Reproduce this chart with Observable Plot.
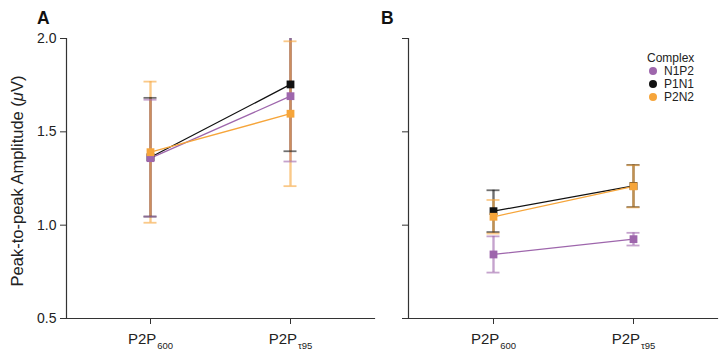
<!DOCTYPE html>
<html><head><meta charset="utf-8">
<script src="https://cdn.jsdelivr.net/npm/d3@7"></script>
<script src="https://cdn.jsdelivr.net/npm/@observablehq/plot@0.6"></script>
<style>
body{margin:0;background:#fff;font-family:"Liberation Sans",Arial,sans-serif;}
#wrap{position:relative;width:720px;height:360px;overflow:hidden;}
.pl{position:absolute;top:0;}
.plab{position:absolute;font-weight:bold;font-size:17.5px;color:#111;line-height:1;}
#ytitle{position:absolute;left:17px;top:181px;transform:translate(-50%,-50%) rotate(-90deg);white-space:nowrap;font-size:16.5px;color:#222;}
#legend{position:absolute;left:647px;top:52px;font-size:12px;color:#222;line-height:13px;}
#legend .k{display:inline-block;width:8px;height:8px;border-radius:50%;margin:0 7px 0 2px;vertical-align:0px;}
</style></head>
<body><div id="wrap">
<div class="plab" style="left:37px;top:10px">A</div>
<div class="plab" style="left:381px;top:10px">B</div>
<div id="ytitle">Peak-to-peak Amplitude (<i>μ</i>V)</div>
<div id="legend"></div>
</div>
<script>
const categories = ["P2P600", "P2Pτ95"];
const tickMain = ["P2P", "P2P"];
const tickSub = ["600", "τ95"];
const complexes = ["N1P2", "P1N1", "P2N2"];
const colors = ["#9E66AC", "#111111", "#F6A53A"];
const drawOrder = ["P1N1", "N1P2", "P2N2"];
const yTicks = [0.5, 1.0, 1.5, 2.0];

// Panel A: mean and error half-width per complex
const A_N1P2_mean = [1.359, 1.691], A_N1P2_err = [0.313, 0.350];
const A_P1N1_mean = [1.364, 1.754], A_P1N1_err = [0.318, 0.358];
const A_P2N2_mean = [1.391, 1.597], A_P2N2_err = [0.378, 0.388];
// Panel B
const B_N1P2_mean = [0.843, 0.925], B_N1P2_err = [0.097, 0.034];
const B_P1N1_mean = [1.075, 1.210], B_P1N1_err = [0.112, 0.113];
const B_P2N2_mean = [1.045, 1.208], B_P2N2_err = [0.090, 0.113];

function rows(sets){
  const out = [];
  sets.forEach(([c, m, e]) => categories.forEach((cat, i) =>
    out.push({complex: c, cat, mean: m[i], lo: m[i] - e[i], hi: m[i] + e[i]})));
  return out.sort((a, b) => drawOrder.indexOf(a.complex) - drawOrder.indexOf(b.complex));
}
const dataA = rows([["N1P2", A_N1P2_mean, A_N1P2_err], ["P1N1", A_P1N1_mean, A_P1N1_err], ["P2N2", A_P2N2_mean, A_P2N2_err]]);
const dataB = rows([["N1P2", B_N1P2_mean, B_N1P2_err], ["P1N1", B_P1N1_mean, B_P1N1_err], ["P2N2", B_P2N2_mean, B_P2N2_err]]);

function panel(data, opts){
  const p = Plot.plot({
    width: opts.width, height: 360,
    marginLeft: opts.ml, marginRight: opts.mr, marginTop: 38, marginBottom: 42,
    style: {fontFamily: '"Liberation Sans", Arial, sans-serif', fontSize: "14px", color: "#222", background: "transparent"},
    x: {type: "point", domain: categories, padding: 0.6, label: null},
    y: {domain: [0.5, 2.0], label: null},
    color: {domain: complexes, range: colors},
    marks: [
      Plot.axisY({ticks: yTicks, tickSize: 6, tickPadding: 4, tickFormat: opts.ylabels ? d3.format(".1f") : () => "", stroke: "#333", label: null}),
      Plot.axisX({tickSize: 6, tickPadding: 9, stroke: "#333", fontSize: 15, label: null}),
      Plot.frame({anchor: "left", stroke: "#333", strokeWidth: 1.2}),
      Plot.frame({anchor: "bottom", stroke: "#333", strokeWidth: 1.2}),
      Plot.ruleX(data, {x: "cat", y1: "lo", y2: "hi", stroke: "complex", strokeWidth: 2.4, strokeOpacity: 0.6, clip: true}),
      Plot.ruleY(data, {x1: "cat", x2: "cat", y: "hi", stroke: "complex", strokeWidth: 1.8, strokeOpacity: 0.6, insetLeft: -6.5, insetRight: -6.5, clip: true}),
      Plot.ruleY(data, {x1: "cat", x2: "cat", y: "lo", stroke: "complex", strokeWidth: 1.8, strokeOpacity: 0.6, insetLeft: -6.5, insetRight: -6.5, clip: true}),
      Plot.line(data, {x: "cat", y: "mean", z: "complex", stroke: "complex", strokeWidth: 1.3}),
      Plot.dot(data, {x: "cat", y: "mean", fill: "complex", symbol: "square", r: 4.4})
    ]
  });
  p.classList.add("pl");
  p.style.left = opts.left + "px";
  d3.select(p).selectAll('g[aria-label="x-axis tick label"] text').each(function(){
    const t = d3.select(this);
    const i = categories.indexOf(t.text());
    if (i < 0) return;
    t.text(null);
    t.append("tspan").text(tickMain[i]);
    t.append("tspan").attr("font-size", "9.5px").attr("dx", "1").attr("dy", "0.5em").text(tickSub[i]);
  });
  document.getElementById("wrap").appendChild(p);
}
panel(dataA, {width: 378, left: 0, ml: 66, mr: 4, ylabels: true});
panel(dataB, {width: 342, left: 378, ml: 30, mr: 3, ylabels: false});

const lg = document.getElementById("legend");
lg.innerHTML = '<div style="margin-bottom:0px">Complex</div>' +
  complexes.map((c, i) => `<div><span class="k" style="background:${colors[i]}"></span>${c}</div>`).join("");
</script>
</body></html>
